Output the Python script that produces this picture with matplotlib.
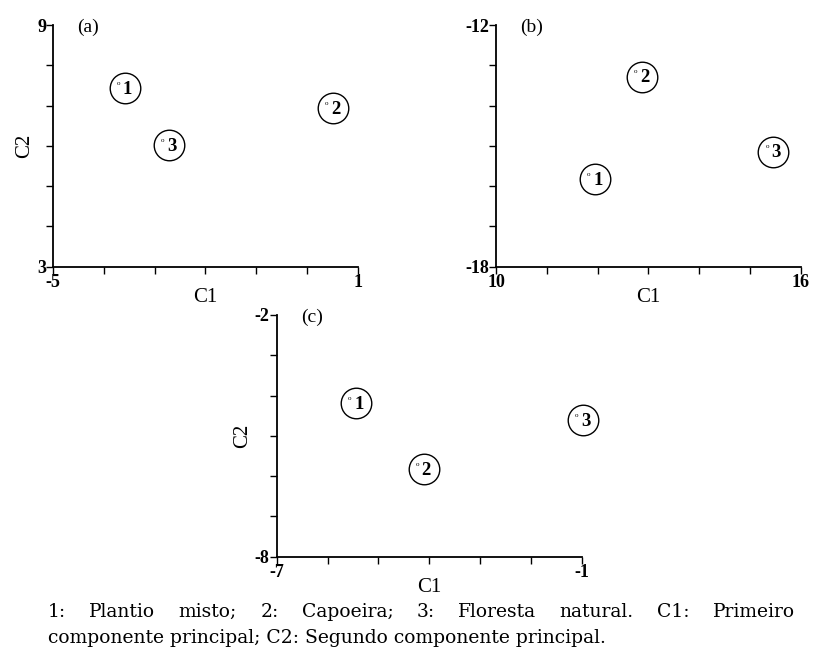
import matplotlib
matplotlib.use('Agg')
from matplotlib import pyplot as plt

# PCA scores (circle centres)
labels = ['1', '2', '3']
a_c1 = [-3.59, 0.51, -2.72]
a_c2 = [7.43, 6.93, 6.02]
b_c1 = [11.95, 12.87, 15.46]
b_c2 = [-15.83, -13.28, -15.14]
c_c1 = [-5.44, -4.11, -0.98]
c_c2 = [-4.19, -5.83, -4.61]

a_xlim, a_ylim = (-5, 1), (3, 9)
b_xlim, b_ylim = (10, 16), (-18, -12)
c_xlim, c_ylim = (-7, -1), (-8, -2)

caption1 = "1: Plantio misto; 2: Capoeira; 3: Floresta natural. C1: Primeiro"
caption2 = "componente principal; C2: Segundo componente principal."

plt.rcParams['font.family'] = 'serif'
plt.rcParams['font.serif'] = ['Liberation Serif', 'DejaVu Serif']

fig = plt.figure(figsize=(8.14, 6.55), dpi=100)


def panel(rect, xs, ys, xlim, ylim, tag, ylab=True):
    ax = fig.add_axes(rect)
    ax.set_xlim(*xlim)
    ax.set_ylim(*ylim)
    for s in ['top', 'right']:
        ax.spines[s].set_visible(False)
    for s in ['left', 'bottom']:
        ax.spines[s].set_linewidth(1.3)
    xt = list(range(xlim[0], xlim[1] + 1))
    yt = list(range(ylim[0], ylim[1] + 1))
    ax.set_xticks(xt)
    ax.set_xticklabels([str(xlim[0])] + [''] * (len(xt) - 2) + [str(xlim[1])],
                       fontweight='bold', fontsize=13)
    ax.set_yticks(yt)
    ax.set_yticklabels([str(ylim[0])] + [''] * (len(yt) - 2) + [str(ylim[1])],
                       fontweight='bold', fontsize=13)
    ax.tick_params(direction='out', length=5, width=1, pad=0)
    ax.set_xlabel('C1', fontsize=15, labelpad=-2)
    if ylab:
        ax.set_ylabel('C2', fontsize=15, labelpad=2)
    ax.plot(xs, ys, 'o', ms=22, mfc='none', mec='black', mew=1.0, clip_on=False)
    for x, y, lb in zip(xs, ys, labels):
        ax.annotate(lb, (x, y), xytext=(2, -1), textcoords='offset points',
                    ha='center', va='center', fontsize=13.5, fontweight='bold',
                    annotation_clip=False)
        ax.annotate('o', (x, y), xytext=(-4.5, 3.5), textcoords='offset points',
                    ha='center', va='center', fontsize=5, annotation_clip=False)
    ax.text(0.08, 0.99, tag, transform=ax.transAxes, fontsize=14,
            ha='left', va='center')
    return ax


panel([0.0651, 0.5928, 0.3747, 0.369], a_c1, a_c2, a_xlim, a_ylim, '(a)')
panel([0.6093, 0.5928, 0.3744, 0.369], b_c1, b_c2, b_xlim, b_ylim, '(b)', ylab=False)
panel([0.3399, 0.1501, 0.3747, 0.369], c_c1, c_c2, c_xlim, c_ylim, '(c)')

# caption, first line justified between two edges
x0, x1 = 48 / 814, 795 / 814
words = caption1.split(' ')
r = fig.canvas.get_renderer()
items = []
widths = []
for w in words:
    t = fig.text(0, 1 - 612 / 655, w, fontsize=13.5, family='DejaVu Serif',
                 va='center', ha='left')
    items.append(t)
    widths.append(t.get_window_extent(renderer=r).width / fig.bbox.width)
gap = (x1 - x0 - sum(widths)) / (len(words) - 1)
pos = x0
for t, wd in zip(items, widths):
    t.set_x(pos)
    pos += wd + gap
fig.text(x0, 1 - 638 / 655, caption2, fontsize=13.5, family='DejaVu Serif',
         va='center', ha='left')

plt.savefig('out.png', dpi=100)
